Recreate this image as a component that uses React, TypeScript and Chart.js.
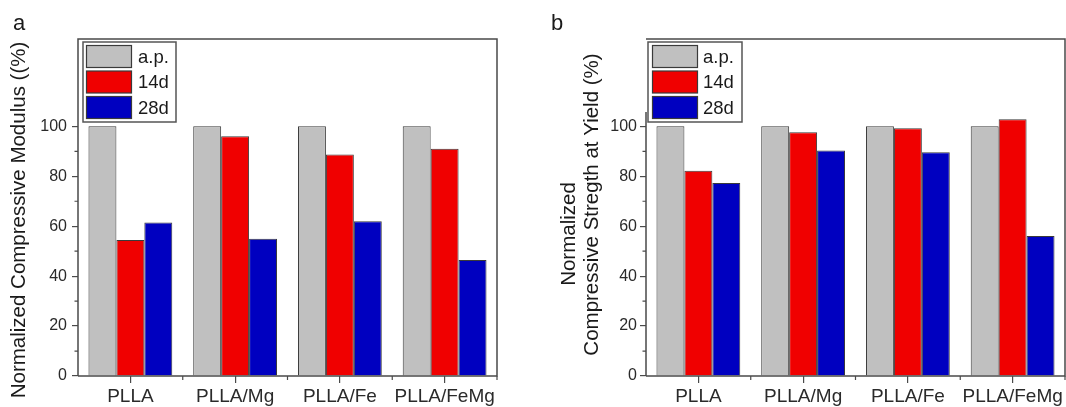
import React, { useEffect, useRef } from 'react';
import { Chart, registerables } from 'chart.js';

Chart.register(...registerables);

// ---- data ----
const categories = ['PLLA', 'PLLA/Mg', 'PLLA/Fe', 'PLLA/FeMg'];
const seriesLabels = ['a.p.', '14d', '28d'];
const modulusAP = [100, 100, 100, 100];
const modulus14d = [54.5, 96, 88.7, 91];
const modulus28d = [61.5, 55, 62, 46.5];
const strengthAP = [100, 100, 100, 100];
const strength14d = [82.2, 97.6, 99.2, 102.9];
const strength28d = [77.3, 90.3, 89.6, 56.1];
const yMajorStep = 20;
const yMaxLabelled = 100;
const yMinorTicks = [10, 30, 50, 70, 90];
const titleA = 'Normalized Compressive Modulus ((%)';
const titleB1 = 'Normalized';
const titleB2 = 'Compressive Stregth at Yield (%)';

// ---- styles ----
const FONT = '"Liberation Sans", Arial, Helvetica, sans-serif';
const seriesColors = ['#c0c0c0', '#f00000', '#0000c0'];
const barBorder = '#3a3a3a';
const frameColor = '#4a4a4a';
const textColor = '#1a1a1a';
const tickTextColor = '#2a2a2a';

type Decor = {
  offsetX: number;
  letter: string;
  letterX: number;
  titles: { text: string; x: number; y: number }[];
  legendBox: { x: number; y: number; w: number; h: number };
  swatchX: number;
  swatchW: number;
  swatchH: number;
  swatchY0: number;
  swatchStep: number;
  textX: number;
  leftSpineTop?: number;
};

function decorPlugin(cfg: Decor) {
  return {
    id: 'decor',
    afterDatasetsDraw(chart: any) {
      const { ctx, chartArea } = chart;
      const { left, right, top, bottom } = chartArea;
      ctx.save();
      ctx.strokeStyle = frameColor;
      ctx.lineWidth = 1.5;
      ctx.beginPath();
      ctx.moveTo(left, bottom);
      ctx.lineTo(right, bottom);
      ctx.lineTo(right, top);
      ctx.lineTo(left, top);
      if (cfg.leftSpineTop !== undefined) {
        ctx.moveTo(left, cfg.leftSpineTop - cfg.offsetX * 0);
        ctx.lineTo(left, bottom);
      } else {
        ctx.lineTo(left, bottom);
      }
      ctx.stroke();

      // minor y ticks
      const ys = chart.scales.y;
      ctx.lineWidth = 1.2;
      ctx.beginPath();
      for (const v of yMinorTicks) {
        const py = ys.getPixelForValue(v);
        ctx.moveTo(left - 3.5, py);
        ctx.lineTo(left, py);
      }
      // minor x ticks at category boundaries
      const xs = chart.scales.x;
      for (let i = 0; i < categories.length - 1; i++) {
        const px = (xs.getPixelForValue(i) + xs.getPixelForValue(i + 1)) / 2;
        ctx.moveTo(px, bottom);
        ctx.lineTo(px, bottom + 4);
      }
      ctx.moveTo(right, bottom);
      ctx.lineTo(right, bottom + 4);
      ctx.stroke();
      ctx.restore();
    },
    afterDraw(chart: any) {
      const { ctx } = chart;
      ctx.save();
      ctx.translate(-cfg.offsetX, 0);
      // panel letter
      ctx.fillStyle = textColor;
      ctx.font = `22px ${FONT}`;
      ctx.textAlign = 'left';
      ctx.textBaseline = 'alphabetic';
      ctx.fillText(cfg.letter, cfg.letterX, 30);

      // axis titles
      ctx.font = `20.5px ${FONT}`;
      for (const t of cfg.titles) {
        ctx.save();
        ctx.translate(t.x, t.y);
        ctx.rotate(-Math.PI / 2);
        ctx.textAlign = 'center';
        ctx.textBaseline = 'alphabetic';
        ctx.fillText(t.text, 0, 0);
        ctx.restore();
      }

      // legend
      const b = cfg.legendBox;
      ctx.fillStyle = '#ffffff';
      ctx.fillRect(b.x, b.y, b.w, b.h);
      ctx.strokeStyle = '#555555';
      ctx.lineWidth = 1.5;
      ctx.strokeRect(b.x, b.y, b.w, b.h);
      const ds = chart.data.datasets;
      ds.forEach((d: any, i: number) => {
        const sy = cfg.swatchY0 + i * cfg.swatchStep;
        ctx.fillStyle = d.backgroundColor;
        ctx.fillRect(cfg.swatchX, sy, cfg.swatchW, cfg.swatchH);
        ctx.strokeStyle = barBorder;
        ctx.lineWidth = 1.2;
        ctx.strokeRect(cfg.swatchX, sy, cfg.swatchW, cfg.swatchH);
        ctx.fillStyle = textColor;
        ctx.font = `18.5px ${FONT}`;
        ctx.textAlign = 'left';
        ctx.textBaseline = 'middle';
        ctx.fillText(d.label, cfg.textX, sy + cfg.swatchH / 2 + 1);
      });
      ctx.restore();
    },
  };
}

function makeConfig(values: number[][], yWidth: number, padRight: number, yPad: number, decor: Decor): any {
  return {
    type: 'bar',
    data: {
      labels: categories,
      datasets: values.map((v, i) => ({
        label: seriesLabels[i],
        data: v,
        backgroundColor: seriesColors[i],
        borderColor: barBorder,
        borderWidth: 1,
        categoryPercentage: 0.8,
        barPercentage: 1.0,
      })),
    },
    options: {
      responsive: false,
      animation: false,
      devicePixelRatio: 1,
      layout: { padding: { top: 39, right: padRight, left: 0, bottom: 0 } },
      plugins: { legend: { display: false }, tooltip: { enabled: false }, title: { display: false } },
      scales: {
        x: {
          offset: true,
          grid: {
            offset: false,
            drawOnChartArea: false,
            drawTicks: true,
            tickLength: 7,
            color: frameColor,
            lineWidth: 1.2,
          },
          border: { display: false },
          ticks: {
            color: tickTextColor,
            font: { family: FONT, size: 19 },
            padding: 2,
            maxRotation: 0,
            autoSkip: false,
          },
          afterFit: (s: any) => {
            s.height = 31;
          },
        },
        y: {
          min: 0,
          max: 135,
          grid: {
            drawOnChartArea: false,
            drawTicks: true,
            tickLength: 6,
            color: frameColor,
            lineWidth: 1.2,
          },
          border: { display: false },
          ticks: {
            stepSize: yMajorStep,
            color: tickTextColor,
            font: { family: FONT, size: 16 },
            padding: yPad,
          },
          afterBuildTicks: (s: any) => {
            s.ticks = s.ticks.filter((t: any) => t.value <= yMaxLabelled);
          },
          afterFit: (s: any) => {
            s.width = yWidth;
          },
        },
      },
    },
    plugins: [decorPlugin(decor)],
  };
}

function Panel(props: { left: number; config: any }) {
  const ref = useRef<HTMLCanvasElement | null>(null);
  useEffect(() => {
    if (!ref.current) return;
    const chart = new Chart(ref.current, props.config);
    return () => chart.destroy();
  }, []);
  return (
    <canvas
      ref={ref}
      width={533}
      height={407}
      style={{ position: 'absolute', left: props.left, top: 0, width: 533, height: 407 }}
    />
  );
}

export default function App() {
  const cfgA = makeConfig([modulusAP, modulus14d, modulus28d], 78, 36, 5, {
    offsetX: 0,
    letter: 'a',
    letterX: 13,
    titles: [{ text: titleA, x: 25, y: 220 }],
    legendBox: { x: 83, y: 42, w: 93, h: 80 },
    swatchX: 86.5,
    swatchW: 45,
    swatchH: 22,
    swatchY0: 45.5,
    swatchStep: 25.5,
    textX: 138,
  });
  const cfgB = makeConfig([strengthAP, strength14d, strength28d], 113, 1, 3, {
    offsetX: 533,
    letter: 'b',
    letterX: 551,
    titles: [
      { text: titleB1, x: 575, y: 234 },
      { text: titleB2, x: 598, y: 204.5 },
    ],
    legendBox: { x: 648, y: 42, w: 94, h: 80 },
    swatchX: 652.5,
    swatchW: 45,
    swatchH: 22,
    swatchY0: 45.5,
    swatchStep: 25.5,
    textX: 703,
    leftSpineTop: 112,
  });
  return (
    <div style={{ position: 'fixed', left: 0, top: 0, width: 1066, height: 407, background: '#ffffff', overflow: 'hidden' }}>
      <Panel left={0} config={cfgA} />
      <Panel left={533} config={cfgB} />
    </div>
  );
}
